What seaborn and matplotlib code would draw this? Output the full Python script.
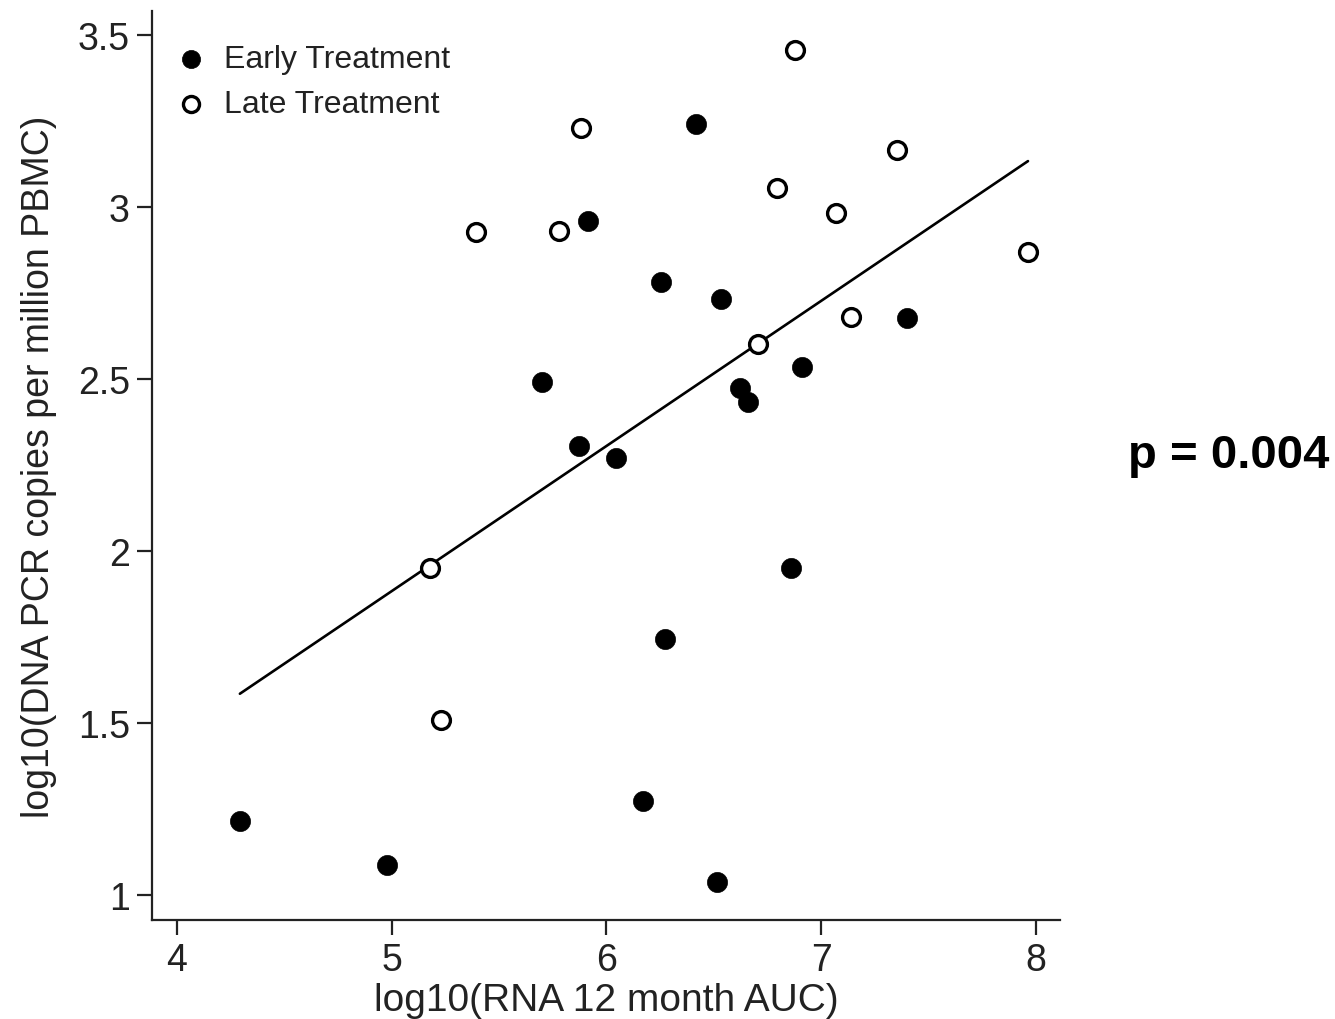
import numpy as np
import pandas as pd
import matplotlib
matplotlib.use("Agg")
import matplotlib.pyplot as plt
import seaborn as sns

sns.set_theme(style="ticks")
plt.rcParams['font.family'] = ['Liberation Sans', 'DejaVu Sans']

early_x = [4.293, 4.978, 5.700, 5.872, 5.914, 6.044, 6.170, 6.254, 6.272, 6.417,
           6.515, 6.533, 6.622, 6.659, 6.859, 6.910, 7.399]
early_y = [1.215, 1.087, 2.491, 2.305, 2.959, 2.270, 1.273, 2.782, 1.744, 3.241,
           1.038, 2.733, 2.474, 2.433, 1.951, 2.535, 2.677]
late_x = [5.178, 5.229, 5.392, 5.779, 5.881, 6.705, 6.794, 6.878, 7.069, 7.139, 7.353, 7.963]
late_y = [1.951, 1.509, 2.927, 2.930, 3.230, 2.602, 3.055, 3.456, 2.983, 2.680, 3.166, 2.869]

x_ticks = [4, 5, 6, 7, 8]
y_ticks = [1, 1.5, 2, 2.5, 3, 3.5]
y_tick_labels = ["1", "1.5", "2", "2.5", "3", "3.5"]

df = pd.DataFrame({
    "x": early_x + late_x,
    "y": early_y + late_y,
    "group": ["Early Treatment"] * len(early_x) + ["Late Treatment"] * len(late_x),
})

fig = plt.figure(figsize=(13.35, 10.2), dpi=100)
ax = fig.add_axes([0.1139, 0.097, 0.794 - 0.1139, 0.988 - 0.097])

sns.regplot(data=df, x="x", y="y", scatter=False, ci=None, ax=ax,
            line_kws=dict(color="black", lw=1.9))

e = df[df.group == "Early Treatment"]
l = df[df.group == "Late Treatment"]
sns.scatterplot(data=e, x="x", y="y", ax=ax, color="black", s=210,
                edgecolor="black", linewidth=0.5, label="Early Treatment", zorder=3)
sns.scatterplot(data=l, x="x", y="y", ax=ax, facecolor="white", s=165,
                edgecolor="black", linewidth=2.4, label="Late Treatment", zorder=3)

ax.set_xlim(3.884, 8.112)
ax.set_ylim(0.927, 3.570)
ax.set_xticks(x_ticks)
ax.set_yticks(y_ticks)
ax.set_yticklabels(y_tick_labels)
ax.tick_params(axis="both", labelsize=27, length=11, width=1.6, color="#222222",
               pad=5, labelcolor="#222222")
for s in ["left", "bottom"]:
    ax.spines[s].set_linewidth(1.6)
    ax.spines[s].set_color("#222222")
for s in ["top", "right"]:
    ax.spines[s].set_visible(False)

ax.set_xlabel("log10(RNA 12 month AUC)", fontsize=28, color="#222222")
ax.set_ylabel("log10(DNA PCR copies per million PBMC)", fontsize=27, color="#222222")
ax.xaxis.set_label_coords(0.5, -0.068)
ax.yaxis.set_label_coords(-0.105, 0.5)

leg = ax.legend(loc="upper left", frameon=False, fontsize=23,
                bbox_to_anchor=(0.004, 0.978), handletextpad=0.35,
                handlelength=1.4, labelspacing=0.47, borderaxespad=0.0,
                markerscale=0.9)
for t in leg.get_texts():
    t.set_color("#222222")

fig.text(0.9955, 0.553, "p = 0.004", fontsize=34, fontweight="bold",
         ha="right", va="center", color="black")

fig.savefig("out.png", dpi=100)
